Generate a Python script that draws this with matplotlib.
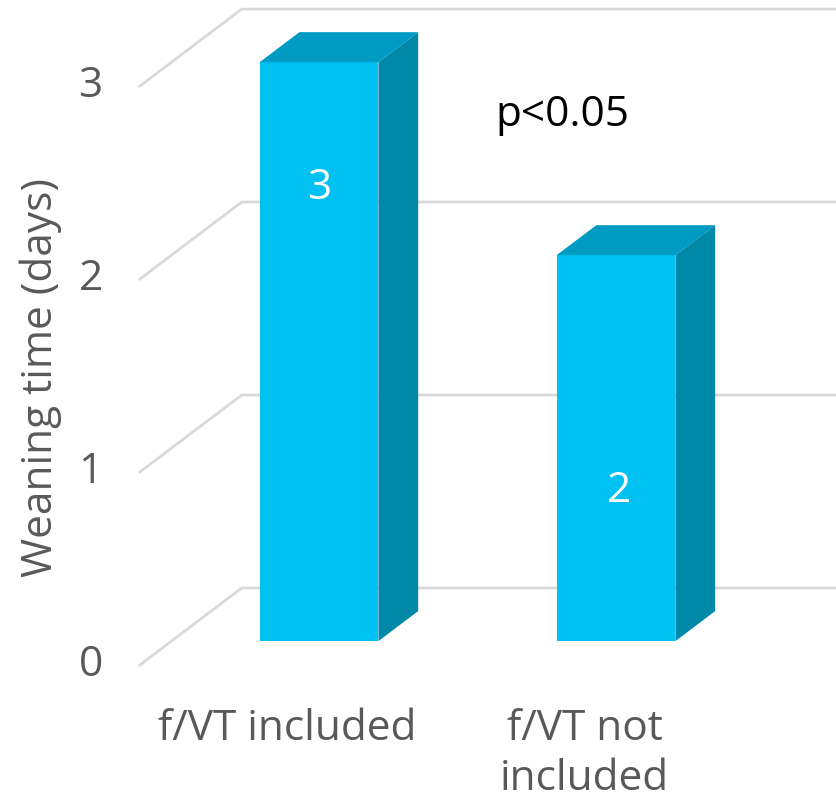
import matplotlib.pyplot as plt
from matplotlib.patches import Polygon

plt.rcParams['font.family'] = ['Open Sans', 'DejaVu Sans']

categories = ["f/VT included", "f/VT not\nincluded"]
values = [3, 2]
yticks = [0, 1, 2, 3]
label_y = [2.35, 0.78]     # where the value labels sit on each bar
p_text = "p<0.05"

front = "#00C1F1"
top = "#009BC3"
side = "#0088A8"
grid = "#D9D9D9"
grey = "#595959"

# oblique depth vector (x units, y units) for the fake 3D look
dx, dy = 0.343, 0.399
bar_w = 0.40
z0, z1 = 0.31, 0.70        # bar front/back as a fraction of the full depth
x_left = -0.497
fs = 30.5

fig = plt.figure(figsize=(8.36, 8.02), dpi=100)
ax = fig.add_axes([0, 0, 1, 1])
ax.set_xlim(-0.968, 1.847)
ax.set_ylim(-0.710, 3.446)
ax.axis("off")

# floor / wall gridlines
for v in yticks:
    ax.plot([x_left, x_left + dx, 2.0], [v, v + dy, v + dy],
            color=grid, lw=2, zorder=1, solid_joinstyle="miter")
    ax.text(x_left - 0.125, v, str(v), ha="right", va="center",
            fontsize=fs, color=grey)

for i, val in enumerate(values):
    x0 = i - bar_w / 2 + z0 * dx
    x1 = x0 + bar_w
    b = z0 * dy
    ddx = (z1 - z0) * dx
    ddy = (z1 - z0) * dy
    h = b + val
    ax.add_patch(Polygon([(x0, b), (x1, b), (x1, h), (x0, h)],
                         closed=True, fc=front, ec="none", zorder=3))
    ax.add_patch(Polygon([(x0, h), (x1, h), (x1 + ddx, h + ddy), (x0 + ddx, h + ddy)],
                         closed=True, fc=top, ec="none", zorder=3))
    ax.add_patch(Polygon([(x1, b), (x1 + ddx, b + ddy), (x1 + ddx, h + ddy), (x1, h)],
                         closed=True, fc=side, ec="none", zorder=3))
    ax.text((x0 + x1) / 2 + 0.01 * i, b + label_y[i], str(val), ha="center",
            va="center", fontsize=fs, color="white", zorder=4)
    ax.text(i, -0.225, categories[i], ha="center", va="top",
            fontsize=fs, color=grey, linespacing=1.25)

ax.text(0.924, 2.85, p_text, ha="center", va="center", fontsize=fs, color="black")

ax.text(-0.83, 1.49, "Weaning time (days)", rotation=90, ha="center",
        va="center", fontsize=fs, color=grey)

fig.savefig("out.png", dpi=100)
